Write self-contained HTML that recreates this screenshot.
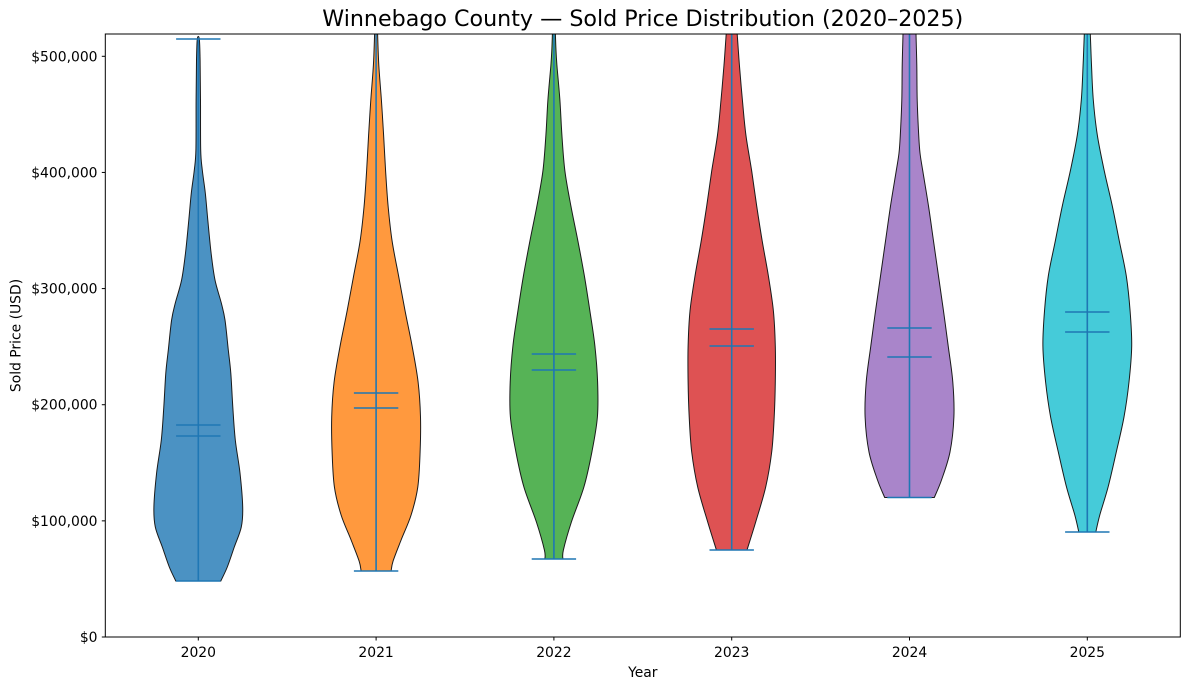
<!DOCTYPE html>
<html><head><meta charset="utf-8">
<style>
html,body{margin:0;padding:0;background:#fff;}
svg{display:block;}
text{font-family:"DejaVu Sans","Liberation Sans",sans-serif;fill:#000;}
</style></head>
<body>
<svg id="s" xmlns="http://www.w3.org/2000/svg" width="1189" height="690" viewBox="0 0 1189 690">
<rect x="0" y="0" width="1189" height="690" fill="#fff"/>
<defs><clipPath id="ax"><rect x="105.3" y="34" width="1075" height="603"/></clipPath></defs>
<g id="bodies" clip-path="url(#ax)"></g>
<g id="lines" clip-path="url(#ax)"></g>
<rect x="105.3" y="34" width="1075" height="603" fill="none" stroke="#000" stroke-width="1"/>
<g id="ticks" stroke="#000" stroke-width="1"></g>
<g id="labels" font-size="13.9"></g>
<text x="642.8" y="26" font-size="22.2" text-anchor="middle">Winnebago County — Sold Price Distribution (2020–2025)</text>
<text x="642.8" y="677" font-size="13.9" text-anchor="middle">Year</text>
<text transform="translate(20.5,335.5) rotate(-90)" font-size="13.9" text-anchor="middle">Sold Price (USD)</text>
</svg>
<script>
(function(){
const NS="http://www.w3.org/2000/svg";
const yv=v=>637-v/100000*116.14;
const centers=[198.3,376.1,553.9,731.7,909.5,1087.3];
const years=["2020","2021","2022","2023","2024","2025"];
const fills=["#4b92c3","#ff993e","#56b356","#de5253","#a985ca","#45cbd9"];
const prof=[
 [[39,1],[60,1.8],[100,2.2],[150,2.4],[170,4],[193,7],[220,9.5],[253,12.8],[280,16.7],[303,23],[320,26.7],[350,30],[373,32.5],[407,34.5],[440,37],[473,41.7],[507,44.4],[527,43],[547,36],[567,29],[581,22.5]],
 [[18,1],[34,1.5],[65,2.7],[100,5.3],[135,7.5],[171,9.5],[206,12],[241,16],[276,22.5],[311,29],[346,36],[382,42],[417,44.4],[452,44],[487,41.7],[515,35],[540,25],[561,17],[571,15]],
 [[18,1],[34,1.5],[48,2],[65,3],[100,6],[135,8],[171,11],[206,17],[241,24],[276,30.5],[311,36],[346,41],[382,43.7],[417,43.5],[452,38],[487,30],[522,17.5],[550,9.5],[559,9]],
 [[18,4.5],[34,5.5],[65,7.7],[100,10.7],[135,14.2],[171,20],[206,25],[241,30.5],[276,36.7],[311,41.7],[346,43.6],[382,43.6],[417,42.5],[452,40],[487,34],[522,24],[550,15.3]],
 [[18,6.3],[34,6.5],[65,7.3],[100,7.7],[135,9.2],[153,10.5],[171,13.3],[206,19],[241,24],[276,29],[311,34],[346,38.7],[382,43.3],[417,44.4],[452,40.5],[480,32],[497.5,24.8]],
 [[18,2.6],[34,3],[65,4.2],[100,6],[135,10],[171,17],[206,25],[241,32],[276,39],[311,42.8],[346,44.4],[382,41.7],[417,36.7],[452,29],[487,20.8],[515,12.5],[532,8.5]]
];
const tops=[39,10,10,10,10,10];
const bots=[581,571,559,550,497.5,532];
const meds=[[425,436],[393,408],[354,370],[329,346],[328,357],[312,332]];
function smooth(pts){
 let d="M"+pts[0][0].toFixed(2)+","+pts[0][1].toFixed(2);
 for(let i=0;i<pts.length-1;i++){
  const p0=pts[i-1]||pts[i],p1=pts[i],p2=pts[i+1],p3=pts[i+2]||p2;
  const c1=[p1[0]+(p2[0]-p0[0])/6,p1[1]+(p2[1]-p0[1])/6];
  const c2=[p2[0]-(p3[0]-p1[0])/6,p2[1]-(p3[1]-p1[1])/6];
  d+=" C"+c1[0].toFixed(2)+","+c1[1].toFixed(2)+" "+c2[0].toFixed(2)+","+c2[1].toFixed(2)+" "+p2[0].toFixed(2)+","+p2[1].toFixed(2);
 }
 return d;
}
const B=document.getElementById("bodies"),L=document.getElementById("lines"),T=document.getElementById("ticks"),LB=document.getElementById("labels");
function el(tag,attrs,parent,txt){const e=document.createElementNS(NS,tag);for(const k in attrs)e.setAttribute(k,attrs[k]);if(txt!==undefined)e.textContent=txt;parent.appendChild(e);return e;}
for(let i=0;i<6;i++){
 const c=centers[i];
 const p=prof[i].slice().sort((a,b)=>b[0]-a[0]); // bottom to top
 const left=p.map(q=>[c-q[1],q[0]]);
 const right=p.slice().reverse().map(q=>[c+q[1],q[0]]);
 const pts=left.concat(right);
 el("path",{d:smooth(pts)+" Z",fill:fills[i],stroke:"#1a1a1a","stroke-width":"1","stroke-linejoin":"round"},B);
 const ln={stroke:"#1f77b4","stroke-width":"1.6",fill:"none"};
 el("line",Object.assign({x1:c,x2:c,y1:tops[i],y2:bots[i]},ln),L);
 el("line",Object.assign({x1:c-22.2,x2:c+22.2,y1:bots[i],y2:bots[i]},ln),L);
 if(i===0) el("line",Object.assign({x1:c-22.2,x2:c+22.2,y1:tops[i],y2:tops[i]},ln),L);
 meds[i].forEach(y=>el("line",Object.assign({x1:c-22.2,x2:c+22.2,y1:y,y2:y},ln),L));
 el("line",{x1:c,x2:c,y1:637,y2:640.5},T);
 el("text",{x:c,y:657,"text-anchor":"middle"},LB,years[i]);
}
const yl=["$0","$100,000","$200,000","$300,000","$400,000","$500,000"];
for(let k=0;k<6;k++){
 const y=yv(k*100000);
 el("line",{x1:101.8,x2:105.3,y1:y,y2:y},T);
 el("text",{x:97.5,y:y+5,"text-anchor":"end"},LB,yl[k]);
}
})();
</script>
</body></html>
